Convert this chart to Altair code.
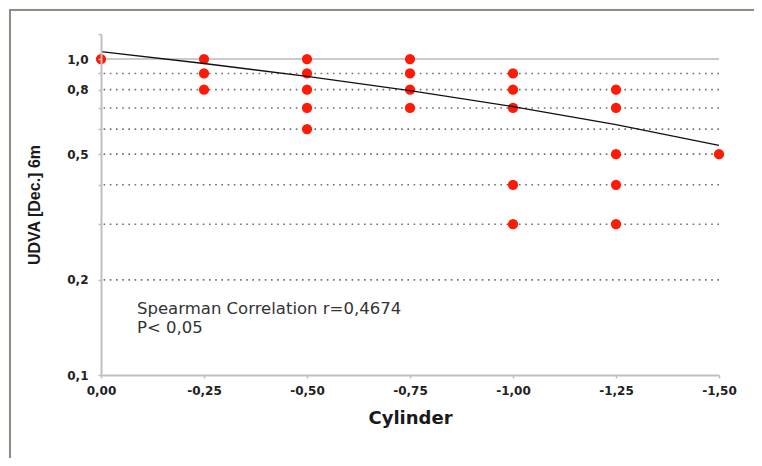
import altair as alt
import pandas as pd

# ---- data ----
cyl = [0.00,
       -0.25, -0.25, -0.25,
       -0.50, -0.50, -0.50, -0.50, -0.50,
       -0.75, -0.75, -0.75, -0.75,
       -1.00, -1.00, -1.00, -1.00, -1.00,
       -1.25, -1.25, -1.25, -1.25, -1.25,
       -1.50]
udva = [1.0,
        1.0, 0.9, 0.8,
        1.0, 0.9, 0.8, 0.7, 0.6,
        1.0, 0.9, 0.8, 0.7,
        0.9, 0.8, 0.7, 0.4, 0.3,
        0.8, 0.7, 0.5, 0.4, 0.3,
        0.5]
trend_x = [0.00, -0.25, -0.50, -0.75, -1.00, -1.25, -1.50]
trend_y = [1.055, 0.968, 0.881, 0.794, 0.707, 0.620, 0.533]

x_ticks = [0.00, -0.25, -0.50, -0.75, -1.00, -1.25, -1.50]
y_ticks = [0.1, 0.2, 0.3, 0.4, 0.5, 0.6, 0.7, 0.8, 0.9, 1.0, 1.2]
y_labeled = [0.1, 0.2, 0.5, 0.8, 1.0]
grid_dotted = [0.2, 0.3, 0.4, 0.5, 0.6, 0.7, 0.8, 0.9]
grid_solid = [1.0]

annotation = ["Spearman Correlation r=0,4674", "P< 0,05"]

pts = pd.DataFrame({"cyl": cyl, "udva": udva})
trend = pd.DataFrame({"cyl": trend_x, "udva": trend_y})
gd = pd.DataFrame({"udva": grid_dotted})
gs = pd.DataFrame({"udva": grid_solid})

LFONT = "DejaVu Sans"
TFONT = "Liberation Sans"

xscale = alt.Scale(domain=[-1.5, 0], reverse=True, nice=False, zero=False)
yscale = alt.Scale(type="log", domain=[0.1, 1.2], nice=False)

xaxis = alt.Axis(
    values=x_ticks,
    labelExpr="replace(replace(format(datum.value, '.2f'), '.', ','), '\u2212', '-')",
    title="Cylinder", titleFont=LFONT, titleFontSize=18, titleFontWeight="bold",
    titleColor="#1a1a1a", titlePadding=13,
    labelFont=LFONT, labelFontSize=12, labelFontWeight="bold", labelColor="#222222",
    labelPadding=7, labelFlush=False, tickSize=3, tickColor="#bfbfbf", tickWidth=1.5,
    domainColor="#bfbfbf", domainWidth=2, grid=False, zindex=2,
)
yaxis = alt.Axis(
    values=y_ticks,
    labelExpr="indexof(%s, datum.value) >= 0 ? replace(format(datum.value, '.1f'), '.', ',') : ''"
              % str(y_labeled),
    title="UDVA [Dec.] 6m", titleFont=TFONT, titleFontSize=16, titleFontWeight="bold",
    titleColor="#1a1a1a", titlePadding=24,
    labelFont=LFONT, labelFontSize=12, labelFontWeight="bold", labelColor="#222222",
    labelPadding=10, labelFlush=False, tickSize=3, tickColor="#bfbfbf", tickWidth=1.5,
    domainColor="#bfbfbf", domainWidth=2, grid=False, zindex=2,
)

frame = alt.Chart(alt.Data(values=[{"a": 1}])).mark_rect(
    fill="white", stroke="#8c8c8c", strokeWidth=2
).encode(
    x=alt.value(-91), x2=alt.value(700), y=alt.value(-24), y2=alt.value(480)
)

grid_d = alt.Chart(gd).mark_rule(
    color="#6f6f6f", strokeWidth=1.6, strokeDash=[1.6, 4.6]
).encode(y=alt.Y("udva:Q", scale=yscale, axis=yaxis))

grid_s = alt.Chart(gs).mark_rule(color="#b8b8b8", strokeWidth=1.5).encode(
    y=alt.Y("udva:Q", scale=yscale)
)

points = alt.Chart(pts).mark_point(
    shape="circle", filled=True, size=105, color="#ff1a05", opacity=1
).encode(
    x=alt.X("cyl:Q", scale=xscale, axis=xaxis),
    y=alt.Y("udva:Q", scale=yscale),
)

line = alt.Chart(trend).mark_line(color="#111111", strokeWidth=1.4).encode(
    x=alt.X("cyl:Q", scale=xscale),
    y=alt.Y("udva:Q", scale=yscale),
)

txt1 = alt.Chart(alt.Data(values=[{"t": annotation[0]}])).mark_text(
    align="left", baseline="middle", font="DejaVu Sans", fontSize=16.5, color="#333333"
).encode(text="t:N", x=alt.value(36), y=alt.value(275))

txt2 = alt.Chart(alt.Data(values=[{"t": annotation[1]}])).mark_text(
    align="left", baseline="middle", font="DejaVu Sans", fontSize=16.5, color="#333333"
).encode(text="t:N", x=alt.value(36), y=alt.value(294))

chart = alt.layer(frame, grid_d, grid_s, points, line, txt1, txt2).properties(
    width=618, height=341,
    padding={"left": 93, "top": 26, "right": 35, "bottom": 83},
    autosize="none",
    background="#fffbe8",
).configure_view(stroke=None)

chart.save("out.html", embed_options={"renderer": "svg", "actions": False})
